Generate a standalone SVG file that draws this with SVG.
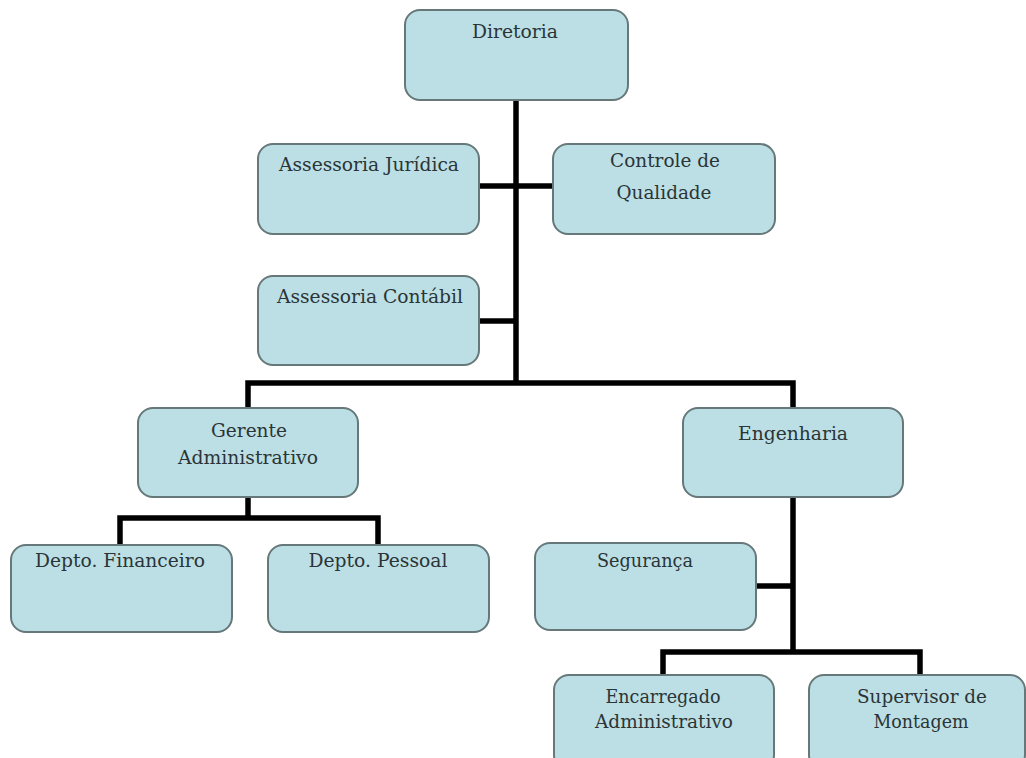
<svg xmlns="http://www.w3.org/2000/svg" width="1026" height="758" viewBox="0 0 1026 758">
  <style>
    .box { fill: #bbdfe4; stroke: #66787a; stroke-width: 2; }
    .lbl { font-family: "DejaVu Serif", "Liberation Serif", serif; font-size: 18.5px; fill: #2b3436; text-anchor: middle; }
    .wire { fill: none; stroke: #000; stroke-width: 5.5; stroke-linejoin: miter; stroke-linecap: butt; }
  </style>
  <rect width="1026" height="758" fill="#ffffff"/>

  <!-- connectors -->
  <g id="connectors">
    <path class="wire" d="M516 100 V383"/>
    <path class="wire" d="M479 186 H553"/>
    <path class="wire" d="M479 321 H516"/>
    <path class="wire" d="M248 408 V383 H793 V408"/>
    <path class="wire" d="M248 497 V518"/>
    <path class="wire" d="M120 545 V518 H378 V545"/>
    <path class="wire" d="M793 497 V652"/>
    <path class="wire" d="M756 586 H793"/>
    <path class="wire" d="M663 675 V652 H920 V675"/>
  </g>

  <g id="diretoria">
    <rect class="box" x="405" y="10" width="223" height="90" rx="15"/>
    <text class="lbl" x="515" y="38" textLength="86" lengthAdjust="spacingAndGlyphs">Diretoria</text>
  </g>

  <g id="assessoria-juridica">
    <rect class="box" x="258" y="144" width="221" height="90" rx="15"/>
    <text class="lbl" x="369" y="171" textLength="180" lengthAdjust="spacingAndGlyphs">Assessoria Jurídica</text>
  </g>

  <g id="controle-qualidade">
    <rect class="box" x="553" y="144" width="222" height="90" rx="15"/>
    <text class="lbl" x="665" y="167" textLength="110" lengthAdjust="spacingAndGlyphs">Controle de</text>
    <text class="lbl" x="664" y="199" textLength="95" lengthAdjust="spacingAndGlyphs">Qualidade</text>
  </g>

  <g id="assessoria-contabil">
    <rect class="box" x="258" y="276" width="221" height="89" rx="15"/>
    <text class="lbl" x="370" y="303" textLength="186" lengthAdjust="spacingAndGlyphs">Assessoria Contábil</text>
  </g>

  <g id="gerente-administrativo">
    <rect class="box" x="138" y="408" width="220" height="89" rx="15"/>
    <text class="lbl" x="249" y="437" textLength="76" lengthAdjust="spacingAndGlyphs">Gerente</text>
    <text class="lbl" x="248" y="464" textLength="140" lengthAdjust="spacingAndGlyphs">Administrativo</text>
  </g>

  <g id="engenharia">
    <rect class="box" x="683" y="408" width="220" height="89" rx="15"/>
    <text class="lbl" x="793" y="440" textLength="110" lengthAdjust="spacingAndGlyphs">Engenharia</text>
  </g>

  <g id="depto-financeiro">
    <rect class="box" x="11" y="545" width="221" height="87" rx="15"/>
    <text class="lbl" x="120" y="567" textLength="170" lengthAdjust="spacingAndGlyphs">Depto. Financeiro</text>
  </g>

  <g id="depto-pessoal">
    <rect class="box" x="268" y="545" width="221" height="87" rx="15"/>
    <text class="lbl" x="378" y="567" textLength="139" lengthAdjust="spacingAndGlyphs">Depto. Pessoal</text>
  </g>

  <g id="seguranca">
    <rect class="box" x="535" y="543" width="221" height="87" rx="15"/>
    <text class="lbl" x="645" y="567" textLength="96" lengthAdjust="spacingAndGlyphs">Segurança</text>
  </g>

  <g id="encarregado-administrativo">
    <rect class="box" x="554" y="675" width="220" height="95" rx="15"/>
    <text class="lbl" x="663" y="703" textLength="115" lengthAdjust="spacingAndGlyphs">Encarregado</text>
    <text class="lbl" x="664" y="728" textLength="138" lengthAdjust="spacingAndGlyphs">Administrativo</text>
  </g>

  <g id="supervisor-montagem">
    <rect class="box" x="809" y="675" width="216" height="95" rx="15"/>
    <text class="lbl" x="922" y="703" textLength="130" lengthAdjust="spacingAndGlyphs">Supervisor de</text>
    <text class="lbl" x="921" y="728" textLength="95" lengthAdjust="spacingAndGlyphs">Montagem</text>
  </g>
</svg>
